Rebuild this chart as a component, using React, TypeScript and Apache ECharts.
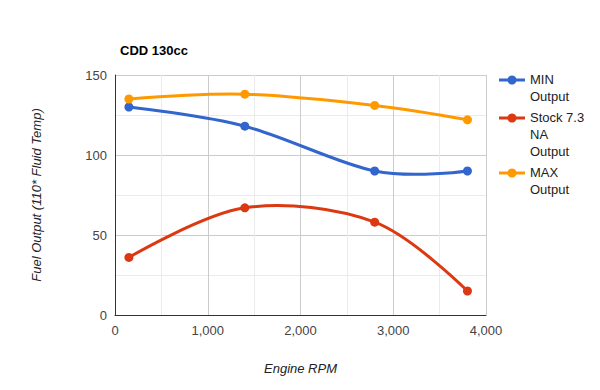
import React, { useEffect, useRef } from "react";
import * as echarts from "echarts";

const rpm = [150, 1400, 2800, 3800];
const minOutput = [130, 118, 90, 90];
const stockOutput = [36, 67, 58, 15];
const maxOutput = [135, 138, 131, 122];
const seriesNames = ["MIN Output", "Stock 7.3 NA Output", "MAX Output"];
const legendLines = [["MIN", "Output"], ["Stock 7.3", "NA", "Output"], ["MAX", "Output"]];
const colors = ["#3366cc", "#dc3912", "#ff9900"];
const FONT = "'Liberation Sans', Arial, sans-serif";
const TENSION = 1 / 6;

export default function App() {
  const ref = useRef<HTMLDivElement>(null);
  useEffect(() => {
    if (!ref.current) return;
    const chart = echarts.init(ref.current, null, { renderer: "svg" });
    const values = [minOutput, stockOutput, maxOutput];
    const legendTops = [80, 118, 173];
    const graphics: any[] = [];
    legendLines.forEach((lines, i) => {
      const y = legendTops[i];
      graphics.push({
        type: "line",
        shape: { x1: 499, y1: y, x2: 525, y2: y },
        style: { stroke: colors[i], lineWidth: 3 },
      });
      graphics.push({
        type: "circle",
        shape: { cx: 512, cy: y, r: 4.5 },
        style: { fill: colors[i] },
      });
      graphics.push({
        type: "text",
        x: 530,
        y: y - 9,
        style: {
          text: lines.join("\n"),
          fill: "#222222",
          font: `13px ${FONT}`,
          lineHeight: 17,
          textVerticalAlign: "top",
        },
      });
    });

    const curveSeries = seriesNames.map((name, i) => ({
      name: name + " curve",
      type: "custom",
      data: rpm.map((x, j) => [x, values[i][j]]),
      encode: { x: 0, y: 1 },
      z: 3 - i,
      silent: true,
      renderItem: (params: any, api: any) => {
        const k = params.dataIndex;
        const n = rpm.length;
        if (k >= n - 1) return null;
        const P = (j: number) => {
          const jj = Math.max(0, Math.min(n - 1, j));
          return api.coord([rpm[jj], values[i][jj]]);
        };
        const p0 = P(k - 1);
        const p1 = P(k);
        const p2 = P(k + 1);
        const p3 = P(k + 2);
        const c1 = k === 0 ? p1 : [p1[0] + (p2[0] - p0[0]) * TENSION, p1[1] + (p2[1] - p0[1]) * TENSION];
        const c2 = k + 1 === n - 1 ? p2 : [p2[0] - (p3[0] - p1[0]) * TENSION, p2[1] - (p3[1] - p1[1]) * TENSION];
        return {
          type: "bezierCurve",
          shape: {
            x1: p1[0], y1: p1[1], x2: p2[0], y2: p2[1],
            cpx1: c1[0], cpy1: c1[1], cpx2: c2[0], cpy2: c2[1],
          },
          style: { stroke: colors[i], lineWidth: 3, fill: "none" },
        };
      },
    }));

    const pointSeries = seriesNames.map((name, i) => ({
      name,
      type: "scatter",
      data: rpm.map((x, j) => [x, values[i][j]]),
      symbol: "circle",
      symbolSize: 9,
      itemStyle: { color: colors[i], opacity: 1 },
      z: 4,
    }));

    chart.setOption({
      animation: false,
      textStyle: { fontFamily: FONT },
      title: {
        text: "CDD 130cc",
        left: 115,
        top: 39,
        textStyle: { fontSize: 13, fontWeight: "bold", color: "#000", fontFamily: FONT },
      },
      legend: { show: false },
      grid: { left: 115, right: 114, top: 75, bottom: 75, containLabel: false },
      xAxis: {
        type: "value",
        min: 0,
        max: 4000,
        interval: 1000,
        name: "Engine RPM",
        nameLocation: "middle",
        nameGap: 47,
        nameTextStyle: { fontStyle: "italic", fontSize: 13, color: "#222", fontFamily: FONT },
        axisLine: { show: true, onZero: false, lineStyle: { color: "#333", width: 1 } },
        axisTick: { show: false },
        axisLabel: {
          color: "#444",
          fontSize: 13,
          margin: 9,
          formatter: (v: number) => v.toLocaleString("en-US"),
        },
        splitLine: { show: true, lineStyle: { color: "#cccccc" } },
        minorTick: { show: false, splitNumber: 2 },
        minorSplitLine: { show: true, lineStyle: { color: "#ebebeb" } },
      },
      yAxis: {
        type: "value",
        min: 0,
        max: 150,
        interval: 50,
        name: "Fuel Output (110* Fluid Temp)",
        nameLocation: "middle",
        nameGap: 72,
        nameTextStyle: { fontStyle: "italic", fontSize: 13, color: "#222", fontFamily: FONT },
        axisLine: { show: true, lineStyle: { color: "#333", width: 1 } },
        axisTick: { show: false },
        axisLabel: { color: "#444", fontSize: 13, margin: 8 },
        splitLine: { show: true, lineStyle: { color: "#cccccc" } },
        minorTick: { show: false, splitNumber: 2 },
        minorSplitLine: { show: true, lineStyle: { color: "#ebebeb" } },
      },
      series: [...curveSeries, ...pointSeries],
      graphic: graphics,
    });
    return () => chart.dispose();
  }, []);
  return <div ref={ref} style={{ width: 600, height: 390, margin: -8 }} />;
}
